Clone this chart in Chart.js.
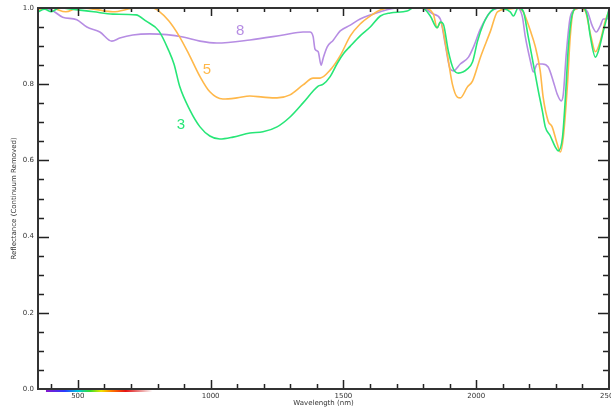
<!DOCTYPE html>
<html>
<head>
<meta charset="utf-8">
<script src="https://cdn.jsdelivr.net/npm/chart.js@4"></script>
<style>
html, body { margin: 0; padding: 0; background: #fff; }
#wrap { width: 611px; height: 408px; }
</style>
</head>
<body>
<div id="wrap"><canvas id="Spectra"></canvas></div>
<script>
// spectrum 3 (green)
const nm3 = [350, 375, 400, 430, 500, 560, 632, 719, 756, 805, 843, 862, 884, 922, 960, 997, 1035, 1084, 1148, 1197, 1250, 1299, 1348, 1386, 1405, 1424, 1450, 1477, 1500, 1526, 1563, 1601, 1639, 1676, 1740, 1763, 1797, 1827, 1853, 1865, 1876, 1895, 1914, 1933, 1967, 1986, 2005, 2027, 2054, 2080, 2128, 2140, 2158, 2177, 2196, 2215, 2234, 2249, 2260, 2279, 2298, 2309, 2325, 2336, 2347, 2362, 2381, 2404, 2419, 2430, 2449, 2460, 2479, 2500];
const refl3 = [0.99, 0.997, 0.99, 1.0, 0.995, 0.99, 0.984, 0.982, 0.966, 0.94, 0.887, 0.853, 0.793, 0.732, 0.688, 0.664, 0.656, 0.661, 0.672, 0.675, 0.688, 0.714, 0.751, 0.782, 0.795, 0.80, 0.82, 0.855, 0.88, 0.90, 0.927, 0.95, 0.979, 0.987, 0.992, 1.0, 1.0, 0.979, 0.948, 0.963, 0.958, 0.887, 0.84, 0.829, 0.84, 0.858, 0.913, 0.958, 0.99, 1.0, 0.99, 0.979, 1.0, 0.992, 0.924, 0.853, 0.782, 0.73, 0.688, 0.664, 0.635, 0.625, 0.661, 0.766, 0.898, 0.984, 1.0, 1.0, 0.976, 0.924, 0.871, 0.887, 0.94, 0.997];

// spectrum 5 (orange)
const nm5 = [350, 400, 455, 500, 560, 632, 719, 783, 805, 843, 881, 918, 960, 997, 1046, 1099, 1148, 1197, 1250, 1299, 1348, 1386, 1412, 1450, 1488, 1526, 1563, 1601, 1639, 1676, 1740, 1800, 1838, 1853, 1865, 1891, 1910, 1929, 1940, 1967, 1986, 2016, 2054, 2080, 2118, 2156, 2177, 2204, 2222, 2241, 2252, 2271, 2286, 2305, 2317, 2328, 2343, 2354, 2366, 2392, 2411, 2430, 2449, 2467, 2486, 2500];
const refl5 = [0.995, 1.0, 0.99, 1.0, 0.997, 0.99, 1.0, 1.0, 0.992, 0.966, 0.927, 0.879, 0.82, 0.78, 0.761, 0.764, 0.769, 0.766, 0.764, 0.772, 0.798, 0.816, 0.816, 0.837, 0.875, 0.927, 0.958, 0.979, 0.995, 1.0, 1.0, 1.0, 0.985, 0.948, 0.963, 0.879, 0.801, 0.766, 0.764, 0.793, 0.808, 0.871, 0.94, 0.99, 0.997, 1.0, 0.99, 0.94, 0.9, 0.835, 0.766, 0.703, 0.688, 0.643, 0.622, 0.661, 0.793, 0.924, 0.992, 1.0, 0.992, 0.932, 0.885, 0.913, 0.966, 0.992];

// spectrum 8 (purple)
const nm8 = [350, 394, 443, 496, 534, 583, 628, 658, 707, 771, 835, 896, 960, 1023, 1148, 1273, 1348, 1374, 1386, 1393, 1405, 1416, 1424, 1439, 1461, 1488, 1526, 1563, 1639, 1703, 1751, 1800, 1838, 1865, 1883, 1902, 1914, 1940, 1971, 1990, 2016, 2054, 2091, 2156, 2174, 2185, 2204, 2215, 2230, 2249, 2271, 2290, 2305, 2320, 2328, 2339, 2354, 2373, 2400, 2419, 2437, 2452, 2467, 2479, 2494, 2500];
const refl8 = [1.0, 0.997, 0.976, 0.969, 0.95, 0.937, 0.913, 0.921, 0.929, 0.932, 0.93, 0.924, 0.913, 0.908, 0.916, 0.929, 0.937, 0.937, 0.925, 0.892, 0.885, 0.85, 0.869, 0.898, 0.915, 0.94, 0.955, 0.971, 0.99, 1.0, 1.0, 1.0, 0.984, 0.971, 0.906, 0.84, 0.835, 0.853, 0.871, 0.898, 0.945, 0.99, 1.0, 1.0, 0.976, 0.924, 0.861, 0.832, 0.853, 0.853, 0.845, 0.808, 0.774, 0.756, 0.774, 0.879, 0.976, 0.997, 1.0, 0.99, 0.953, 0.937, 0.953, 0.971, 0.971, 0.99];

const xTicks = [500, 1000, 1500, 2000, 2500];
const yTicks = [0, 0.2, 0.4, 0.6, 0.8, 1.0];

const green = '#27e677';
const orange = '#ffb84a';
const purple = '#b68de3';

function pts(xs, ys) {
    return xs.map((v, i) => ({ x: v, y: ys[i] }));
}

// in-chart series numbers, anchored in data units
const tags = [
    { text: '3', x: 888, y: 0.693, color: green },
    { text: '5', x: 986, y: 0.837, color: orange },
    { text: '8', x: 1111, y: 0.94, color: purple }
];

const frame = {
    id: 'frame',
    afterDatasetsDraw(chart) {
        const { ctx, chartArea: a, scales: { x, y } } = chart;
        ctx.save();

        // visible spectrum strip under the axis
        const x0 = x.getPixelForValue(380), x1 = x.getPixelForValue(780);
        const g = ctx.createLinearGradient(x0, 0, x1, 0);
        g.addColorStop(0, 'rgba(120,0,200,0.9)');
        g.addColorStop(0.18, 'rgba(40,60,255,1)');
        g.addColorStop(0.3, 'rgba(0,200,220,1)');
        g.addColorStop(0.42, 'rgba(60,220,40,1)');
        g.addColorStop(0.52, 'rgba(240,230,0,1)');
        g.addColorStop(0.62, 'rgba(255,120,0,1)');
        g.addColorStop(0.75, 'rgba(230,20,20,1)');
        g.addColorStop(1, 'rgba(200,0,0,0)');
        ctx.fillStyle = g;
        ctx.fillRect(x0, a.bottom, x1 - x0, 3);

        // inward ticks on all four sides
        ctx.strokeStyle = '#222';
        ctx.lineWidth = 1.5;
        ctx.beginPath();
        for (let v = 400; v < 2500; v += 100) {
            const px = Math.round(x.getPixelForValue(v)) + 0.5;
            const len = v % 500 === 0 ? 9 : 5;
            ctx.moveTo(px, a.bottom); ctx.lineTo(px, a.bottom - len);
            ctx.moveTo(px, a.top); ctx.lineTo(px, a.top + len - 1);
        }
        for (let k = 1; k < 20; k++) {
            const v = k * 0.05;
            const py = Math.round(y.getPixelForValue(v)) + 0.5;
            const len = k % 4 === 0 ? 11 : 6;
            ctx.moveTo(a.left, py); ctx.lineTo(a.left + len, py);
            ctx.moveTo(a.right, py); ctx.lineTo(a.right - len, py);
        }
        ctx.stroke();

        // frame
        ctx.strokeStyle = '#333';
        ctx.lineWidth = 2;
        ctx.strokeRect(a.left, a.top, a.right - a.left, a.bottom - a.top);

        // series numbers
        ctx.font = '15px "Liberation Sans", Arial, sans-serif';
        ctx.textAlign = 'center';
        ctx.textBaseline = 'middle';
        tags.forEach(t => {
            ctx.fillStyle = t.color;
            ctx.fillText(t.text, x.getPixelForValue(t.x), y.getPixelForValue(t.y));
        });
        ctx.restore();
    }
};

const line = (data, color) => ({
    data: data,
    borderColor: color,
    borderWidth: 1.6,
    pointRadius: 0,
    fill: false,
    cubicInterpolationMode: 'monotone'
});

const tickFont = { family: '"DejaVu Sans", Verdana, sans-serif', size: 7 };

const stx = document.getElementById('Spectra').getContext('2d');
const Spectra = new Chart(stx, {
    type: 'line',
    data: {
        datasets: [
            line(pts(nm3, refl3), green),
            line(pts(nm5, refl5), orange),
            line(pts(nm8, refl8), purple)
        ]
    },
    options: {
        responsive: true,
        maintainAspectRatio: false,
        animation: false,
        layout: { padding: { top: 8, right: 2, left: 0, bottom: 0 } },
        plugins: { legend: { display: false }, tooltip: { enabled: false } },
        scales: {
            x: {
                type: 'linear',
                min: 350,
                max: 2500,
                grid: { display: false, drawTicks: false },
                border: { display: false },
                afterBuildTicks: s => { s.ticks = xTicks.map(v => ({ value: v })); },
                afterFit: s => { s.height = 19; s.paddingLeft = 0; s.paddingRight = 0; },
                ticks: { font: tickFont, color: '#333', padding: 3, maxRotation: 0, autoSkip: false, callback: v => String(v) },
                title: { display: true, text: 'Wavelength (nm)', font: tickFont, color: '#333', padding: { top: 0, bottom: 1 } }
            },
            y: {
                min: 0,
                max: 1,
                grid: { display: false, drawTicks: false },
                border: { display: false },
                afterBuildTicks: s => { s.ticks = yTicks.map(v => ({ value: v })); },
                afterFit: s => { s.width = 38; s.paddingTop = 0; s.paddingBottom = 0; },
                ticks: { font: tickFont, color: '#333', padding: 4, callback: v => v.toFixed(1) },
                title: { display: true, text: 'Reflectance (Continuum Removed)', font: tickFont, color: '#333', padding: { top: 10, bottom: 0 } }
            }
        }
    },
    plugins: [frame]
});
</script>
</body>
</html>
